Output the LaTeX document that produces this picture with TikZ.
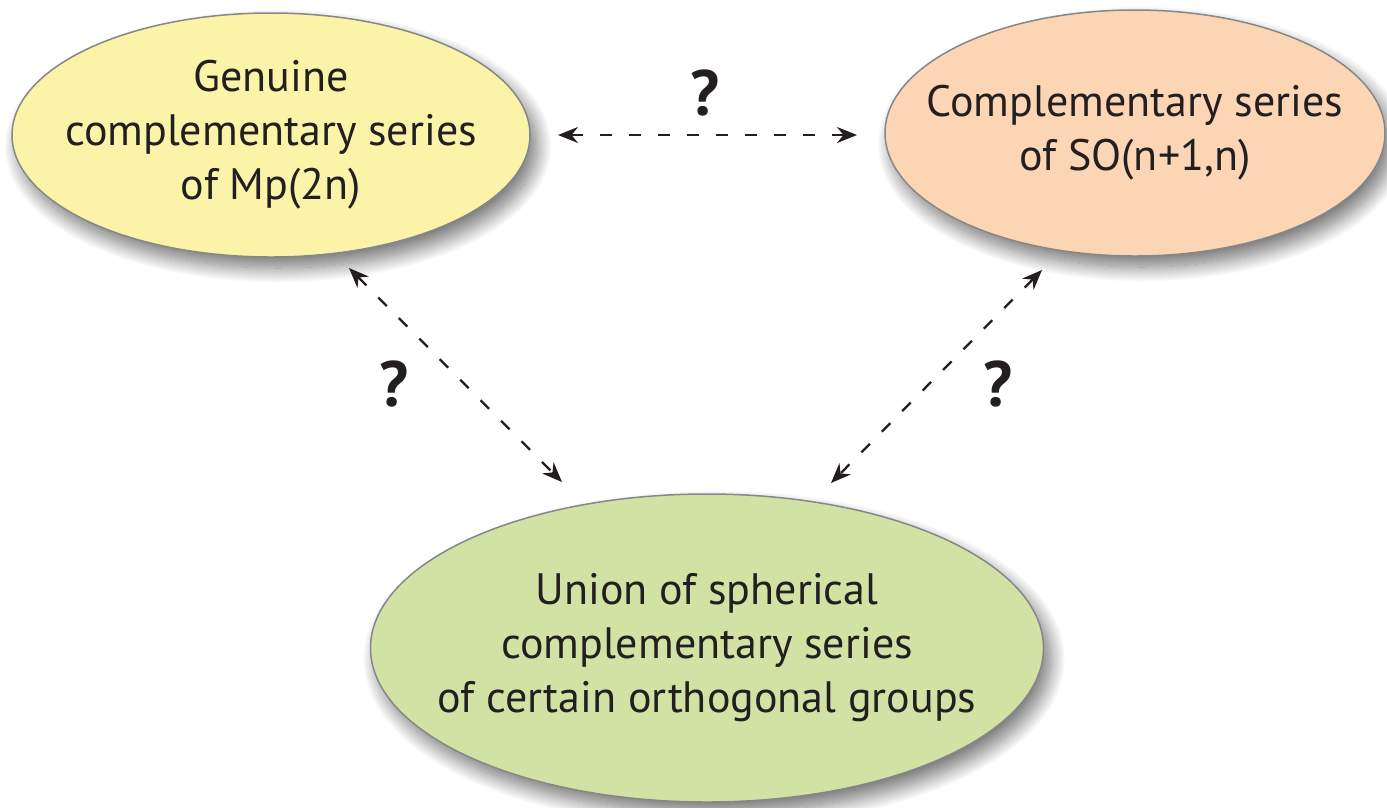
\documentclass[tikz,border=0pt]{standalone}
\usepackage{fontspec}
\setmainfont{PT Sans}
\usetikzlibrary{shapes.geometric,arrows.meta,shadows.blur}
\definecolor{yel}{RGB}{250,243,168}
\definecolor{ora}{RGB}{252,214,180}
\definecolor{gre}{RGB}{210,226,164}
\definecolor{bordergray}{RGB}{135,135,135}
\definecolor{txt}{RGB}{35,31,32}
\begin{document}
\begin{tikzpicture}[x=1pt,y=-1pt,
  bubble/.style={ellipse, draw=bordergray, line width=1.5pt, inner sep=0pt,
    blur shadow={shadow xshift=7pt, shadow yshift=-11pt, shadow blur radius=15pt,
      shadow blur steps=25, shadow opacity=55}},
  bubbletext/.style={align=center, font=\fontsize{44}{54}\selectfont, text=txt, inner sep=0pt},
  link/.style={draw=txt, dash pattern=on 12pt off 17pt, line width=2.3pt,
    {Stealth[length=20pt,width=16pt]}-{Stealth[length=20pt,width=16pt]}},
  qmark/.style={font=\bfseries\fontsize{64}{64}\selectfont, text=txt, inner sep=0pt}]
\useasboundingbox (0,0) rectangle (1387,807);
\node[bubble, fill=yel, minimum width=518pt, minimum height=244pt,
  label={[bubbletext]center:Genuine\\complementary series\\of Mp(2n)}] (mp) at (271,135) {};
\node[bubble, fill=ora, minimum width=500pt, minimum height=246pt,
  label={[bubbletext]center:Complementary series\\of SO(n+1,n)}] (so) at (1135,133) {};
\node[bubble, fill=gre, minimum width=673pt, minimum height=308pt,
  label={[bubbletext]center:Union of spherical\\complementary series\\of certain orthogonal groups}] (un) at (707,648) {};
\coordinate (a1) at (558,135);
\coordinate (a2) at (857,135);
\coordinate (b1) at (349,268);
\coordinate (b2) at (562,482);
\coordinate (c1) at (1042,270);
\coordinate (c2) at (831,483);
\draw[link] (a1) -- (a2);
\draw[link] (b1) -- (b2);
\draw[link] (c1) -- (c2);
\node[qmark] (q1) at (705,93) {?};
\node[qmark] (q2) at (394,384) {?};
\node[qmark] (q3) at (998,384) {?};
\end{tikzpicture}
\end{document}
